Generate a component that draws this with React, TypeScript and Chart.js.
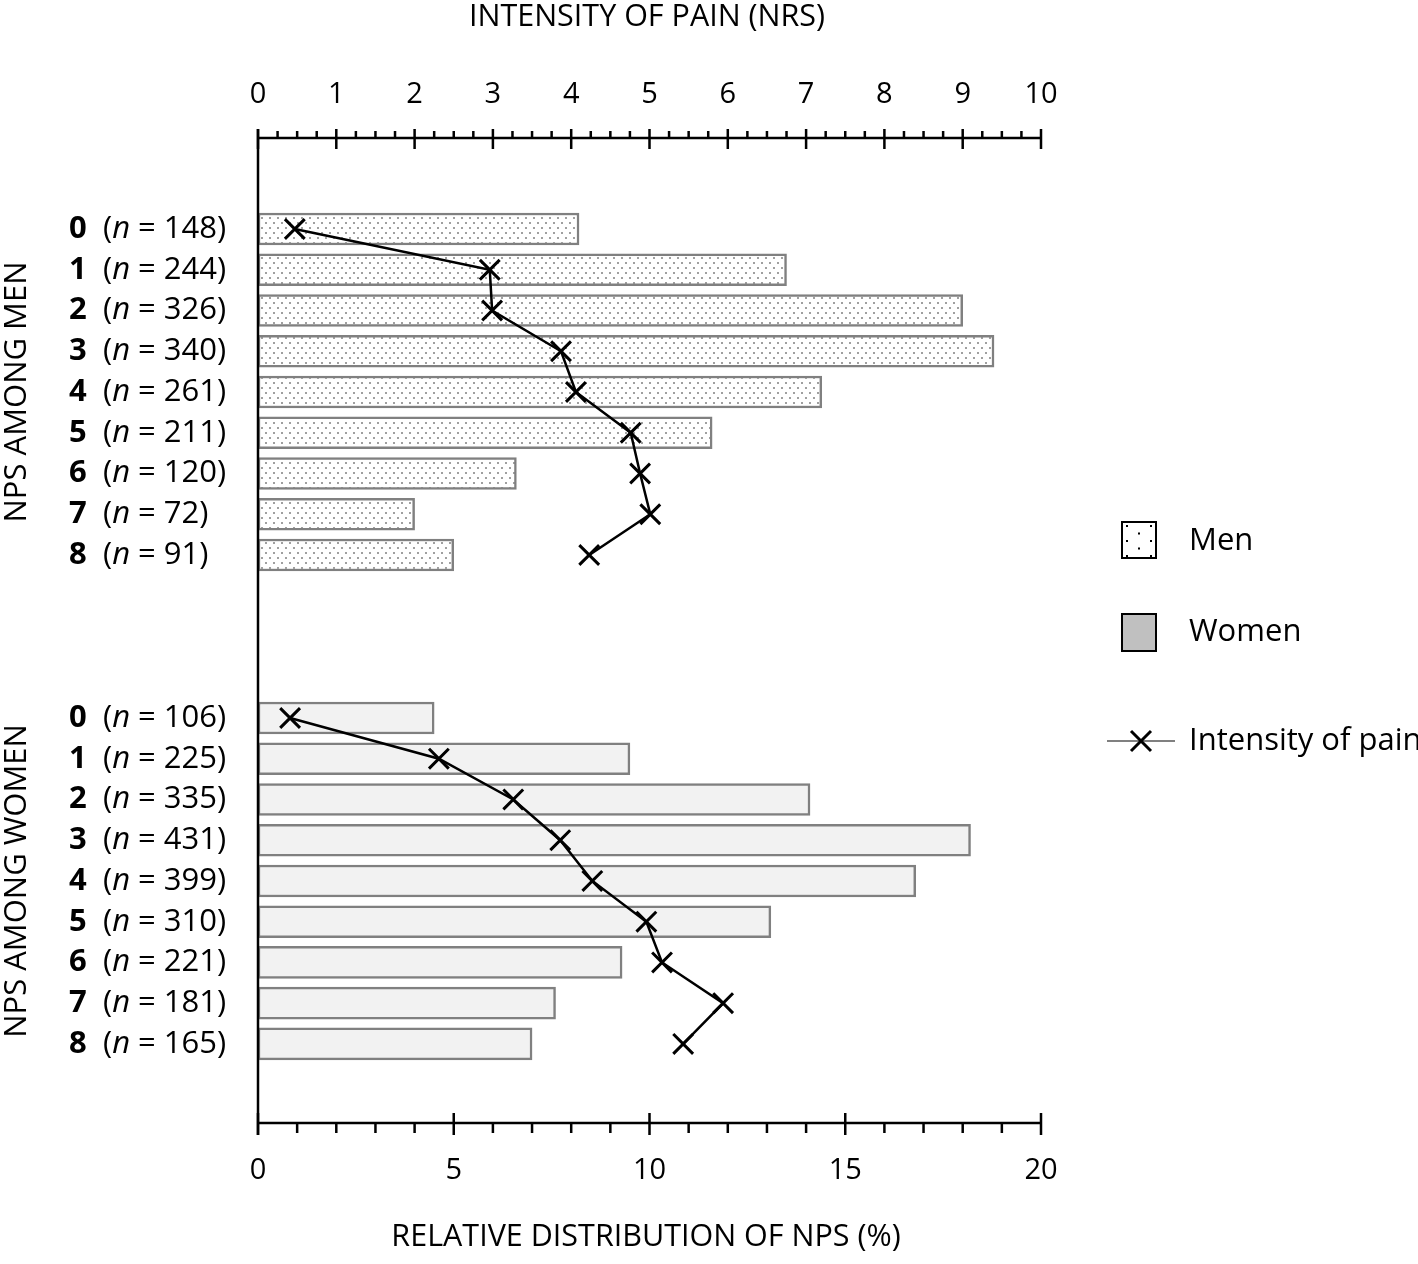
import React, { useEffect, useRef } from 'react';
import { Chart, registerables } from 'chart.js';

Chart.register(...registerables);

// ---- data ----
const npsLevels = ['0', '1', '2', '3', '4', '5', '6', '7', '8'];
const menN = [148, 244, 326, 340, 261, 211, 120, 72, 91];
const womenN = [106, 225, 335, 431, 399, 310, 221, 181, 165];
const menPct = [8.2, 13.5, 18.0, 18.8, 14.4, 11.6, 6.6, 4.0, 5.0];
const womenPct = [4.5, 9.5, 14.1, 18.2, 16.8, 13.1, 9.3, 7.6, 7.0];
const menPain = [0.47, 2.96, 2.99, 3.87, 4.06, 4.76, 4.88, 5.01, 4.23];
const womenPain = [0.41, 2.31, 3.26, 3.86, 4.27, 4.96, 5.16, 5.94, 5.43];
const pctTicks = [0, 5, 10, 15, 20];
const painTicks = [0, 1, 2, 3, 4, 5, 6, 7, 8, 9, 10];
const menRows = [0, 1, 2, 3, 4, 5, 6, 7, 8];
const womenRows = [12, 13, 14, 15, 16, 17, 18, 19, 20];

const topTitle = 'INTENSITY OF PAIN (NRS)';
const bottomTitle = 'RELATIVE DISTRIBUTION OF NPS (%)';
const menGroupTitle = 'NPS AMONG MEN';
const womenGroupTitle = 'NPS AMONG WOMEN';
const legendLabels = ['Men', 'Women', 'Intensity of pain'];

const FONT = '"Open Sans", "Noto Sans", sans-serif';

function makePattern(): CanvasPattern | string {
  const c = document.createElement('canvas');
  c.width = 8;
  c.height = 10;
  const g = c.getContext('2d');
  if (!g) return '#f8f8f8';
  g.fillStyle = '#ffffff';
  g.fillRect(0, 0, 8, 10);
  g.fillStyle = '#a0a0a0';
  g.fillRect(1, 2, 2, 2);
  g.fillRect(5, 7, 2, 2);
  const p = g.createPattern(c, 'repeat');
  return p || '#f8f8f8';
}

const decorPlugin = {
  id: 'decor',
  afterDraw(chart: any) {
    const ctx: CanvasRenderingContext2D = chart.ctx;
    const xs = chart.scales.x;
    const x2 = chart.scales.x2;
    const ys = chart.scales.y;
    const { top, bottom, left } = chart.chartArea;
    ctx.save();
    ctx.strokeStyle = '#000';
    ctx.fillStyle = '#000';
    ctx.lineWidth = 2.5;
    ctx.lineCap = 'butt';

    // axis lines
    ctx.beginPath();
    ctx.moveTo(left, top);
    ctx.lineTo(x2.getPixelForValue(10), top);
    ctx.moveTo(left, top - 9);
    ctx.lineTo(left, bottom + 12);
    ctx.moveTo(left, bottom);
    ctx.lineTo(xs.getPixelForValue(20), bottom);
    ctx.stroke();

    // top ticks
    ctx.beginPath();
    for (let i = 0; i <= 40; i++) {
      const v = i / 4;
      const px = x2.getPixelForValue(v);
      if (i % 4 === 0) {
        ctx.moveTo(px, top - 9);
        ctx.lineTo(px, top + 11);
      } else {
        ctx.moveTo(px, top - 7);
        ctx.lineTo(px, top);
      }
    }
    // bottom ticks
    for (let v = 0; v <= 20; v++) {
      const px = xs.getPixelForValue(v);
      if (v % 5 === 0) {
        ctx.moveTo(px, bottom - 10);
        ctx.lineTo(px, bottom + 12);
      } else {
        ctx.moveTo(px, bottom);
        ctx.lineTo(px, bottom + 10);
      }
    }
    ctx.stroke();

    // tick labels
    ctx.font = `29px ${FONT}`;
    ctx.textAlign = 'center';
    ctx.textBaseline = 'middle';
    painTicks.forEach((t) => ctx.fillText(String(t), x2.getPixelForValue(t), 95));
    pctTicks.forEach((t) => ctx.fillText(String(t), xs.getPixelForValue(t), 1171));

    // axis titles
    ctx.font = `30.5px ${FONT}`;
    ctx.fillText(topTitle, 647, 17);
    ctx.fillText(bottomTitle, 646, 1237);

    // category labels
    const SZ = 31;
    const drawRow = (lvl: string, n: number, pos: number) => {
      const py = ys.getPixelForValue(pos);
      ctx.textAlign = 'left';
      ctx.font = `bold ${SZ}px ${FONT}`;
      ctx.fillText(lvl, 69, py);
      let x = 103;
      ctx.font = `${SZ}px ${FONT}`;
      ctx.fillText('(', x, py);
      x += ctx.measureText('(').width;
      ctx.font = `italic ${SZ}px ${FONT}`;
      ctx.fillText('n', x, py);
      x += ctx.measureText('n').width;
      ctx.font = `${SZ}px ${FONT}`;
      ctx.fillText(` = ${n})`, x, py);
    };
    npsLevels.forEach((l, i) => drawRow(l, menN[i], menRows[i]));
    npsLevels.forEach((l, i) => drawRow(l, womenN[i], womenRows[i]));

    // group titles
    const groupTitle = (txt: string, a: number, b: number) => {
      const cy = (ys.getPixelForValue(a) + ys.getPixelForValue(b)) / 2;
      ctx.save();
      ctx.translate(17, cy);
      ctx.rotate(-Math.PI / 2);
      ctx.textAlign = 'center';
      ctx.textBaseline = 'middle';
      ctx.font = `31px ${FONT}`;
      ctx.fillText(txt, 0, 0);
      ctx.restore();
    };
    groupTitle(menGroupTitle, menRows[0], menRows[menRows.length - 1]);
    groupTitle(womenGroupTitle, womenRows[0], womenRows[womenRows.length - 1]);

    // legend
    ctx.textAlign = 'left';
    ctx.textBaseline = 'middle';
    ctx.font = `31px ${FONT}`;
    // men box
    ctx.fillStyle = '#fff';
    ctx.fillRect(1122, 522, 34, 36);
    ctx.fillStyle = '#000';
    const dotRows = [
      [1126, 1150],
      [1138],
      [1126, 1150],
      [1138],
      [1126, 1150],
    ];
    dotRows.forEach((row, r) => row.forEach((dx) => ctx.fillRect(dx, 525 + r * 7.5, 2, 2)));
    ctx.lineWidth = 2;
    ctx.strokeStyle = '#000';
    ctx.strokeRect(1122, 522, 34, 36);
    ctx.fillText(legendLabels[0], 1189, 541);
    // women box
    ctx.fillStyle = '#c0c0c0';
    ctx.fillRect(1122, 614, 34, 37);
    ctx.strokeRect(1122, 614, 34, 37);
    ctx.fillStyle = '#000';
    ctx.fillText(legendLabels[1], 1189, 632);
    // line legend
    ctx.strokeStyle = '#808080';
    ctx.lineWidth = 2;
    ctx.beginPath();
    ctx.moveTo(1107, 741);
    ctx.lineTo(1175, 741);
    ctx.stroke();
    ctx.strokeStyle = '#000';
    ctx.lineWidth = 3;
    ctx.beginPath();
    ctx.moveTo(1131, 731);
    ctx.lineTo(1151, 751);
    ctx.moveTo(1151, 731);
    ctx.lineTo(1131, 751);
    ctx.stroke();
    ctx.fillText(legendLabels[2], 1189, 741);

    ctx.restore();
  },
};

export default function App() {
  const ref = useRef<HTMLCanvasElement | null>(null);
  useEffect(() => {
    if (!ref.current) return;
    const pattern = makePattern();
    const lineStyle = {
      type: 'line',
      xAxisID: 'x2',
      yAxisID: 'y',
      borderColor: '#000',
      borderWidth: 2.5,
      pointStyle: 'crossRot',
      pointRadius: 14,
      pointBorderWidth: 3,
      pointBorderColor: '#000',
      pointBackgroundColor: '#000',
      fill: false,
      tension: 0,
      order: 1,
    };
    const barStyle = {
      type: 'bar',
      xAxisID: 'x',
      yAxisID: 'y',
      borderColor: '#808080',
      borderWidth: 2.5,
      borderSkipped: false,
      barThickness: 32,
      grouped: false,
      order: 2,
    };
    const chart = new Chart(ref.current, {
      type: 'bar',
      data: {
        datasets: [
          {
            ...lineStyle,
            label: 'Intensity of pain (men)',
            data: menPain.map((v, i) => ({ x: v, y: menRows[i] })),
          } as any,
          {
            ...lineStyle,
            label: 'Intensity of pain (women)',
            data: womenPain.map((v, i) => ({ x: v, y: womenRows[i] })),
          } as any,
          {
            ...barStyle,
            label: 'Men',
            data: menPct.map((v, i) => ({ x: v, y: menRows[i] })),
            backgroundColor: pattern as any,
          } as any,
          {
            ...barStyle,
            label: 'Women',
            data: womenPct.map((v, i) => ({ x: v, y: womenRows[i] })),
            backgroundColor: '#f2f2f2',
          } as any,
        ],
      },
      options: {
        indexAxis: 'y',
        responsive: false,
        animation: false,
        layout: { padding: { left: 258, top: 138, right: 377, bottom: 141 } },
        plugins: { legend: { display: false }, tooltip: { enabled: false } },
        scales: {
          x: { type: 'linear', position: 'bottom', min: 0, max: 20, offset: false, display: false },
          x2: { type: 'linear', position: 'top', min: 0, max: 10, offset: false, display: false },
          y: { type: 'linear', min: -2.233, max: 21.94, reverse: true, offset: false, display: false },
        },
      },
      plugins: [decorPlugin],
    } as any);
    return () => chart.destroy();
  }, []);
  return (
    <div style={{ position: 'fixed', left: 0, top: 0, width: 1418, height: 1264, background: '#fff' }}>
      <canvas ref={ref} width={1418} height={1264} style={{ display: 'block' }} />
    </div>
  );
}
